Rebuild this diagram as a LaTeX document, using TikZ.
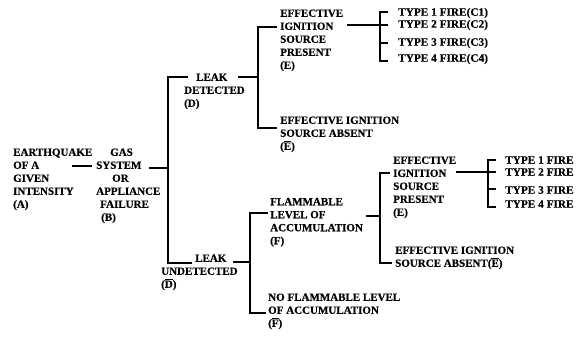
\documentclass[tikz,border=0pt]{standalone}
\usepackage{fontspec}
\setmainfont{Liberation Serif}[BoldFeatures={FakeBold=0.5}]
\newcommand{\ovl}[1]{$\overline{\mbox{#1}}$}
\begin{document}
\begin{tikzpicture}[x=1pt,y=-1pt,
  lbl/.style={anchor=north west,inner sep=0pt,align=left,font=\bfseries\fontsize{11}{13}\selectfont},
  one/.style={anchor=west,inner sep=0pt,font=\bfseries\fontsize{11.3}{13}\selectfont},
  wire/.style={line width=1.7pt,line join=miter}]
\useasboundingbox (0,0) rectangle (586,337);
% text blocks
\node[lbl] (A) at (13,148.3) {EARTHQUAKE\\OF A\\GIVEN\\INTENSITY\\(A)};
\node[lbl] (B) at (96,148.3) {\hspace*{14pt}GAS\\SYSTEM\\\hspace*{16pt}OR\\APPLIANCE\\\hspace*{4pt}FAILURE\\\hspace*{5pt}(B)};
\node[lbl] (D) at (184,73.3) {\hspace*{12pt}LEAK\\DETECTED\\(D)};
\node[lbl] (E1) at (280,9.3) {EFFECTIVE\\IGNITION\\SOURCE\\PRESENT\\(E)};
\node[lbl] (NE1) at (280,116.3) {EFFECTIVE IGNITION\\SOURCE ABSENT\\(\ovl{E})};
\node[lbl] (ND) at (161,254.3) {\hspace*{34pt}LEAK\\UNDETECTED\\(\ovl{D})};
\node[lbl] (F) at (270,197.8) {FLAMMABLE\\LEVEL OF\\ACCUMULATION\\(F)};
\node[lbl] (E2) at (393,156.3) {EFFECTIVE\\IGNITION\\SOURCE\\PRESENT\\(E)};
\node[lbl] (NE2) at (395,246.3) {EFFECTIVE IGNITION\\SOURCE ABSENT(\ovl{E})};
\node[lbl] (NF) at (268,293.3) {NO FLAMMABLE LEVEL\\OF ACCUMULATION\\(\ovl{F})};
\node[one] (C1) at (398,13) {TYPE 1 FIRE(C1)};
\node[one] (C2) at (398,25) {TYPE 2 FIRE(C2)};
\node[one] (C3) at (398,43) {TYPE 3 FIRE(C3)};
\node[one] (C4) at (398,59) {TYPE 4 FIRE(C4)};
\node[one] (T1) at (505,160) {TYPE 1 FIRE};
\node[one] (T2) at (505,172) {TYPE 2 FIRE};
\node[one] (T3) at (505,190) {TYPE 3 FIRE};
\node[one] (T4) at (505,204) {TYPE 4 FIRE};
% junction coordinates
\coordinate (ab1) at (72,166); \coordinate (ab2) at (92,166);
\coordinate (bs) at (149,168); \coordinate (bt) at (168,168);
\coordinate (t1) at (168,77); \coordinate (t2) at (168,263);
\coordinate (d1) at (188,77); \coordinate (d2) at (238,77);
\coordinate (e0) at (258,77);
\coordinate (e1) at (258,27); \coordinate (e2) at (258,128);
\coordinate (e1r) at (277,27); \coordinate (e2r) at (277,128);
\coordinate (i1) at (347,25); \coordinate (k1) at (380,25);
\coordinate (ktop) at (380,12); \coordinate (kbot) at (380,61); \coordinate (k3) at (380,43);
\coordinate (nd1) at (192,263); \coordinate (nd2) at (233,262); \coordinate (f0) at (250,262);
\coordinate (f1) at (250,213); \coordinate (f2) at (250,313);
\coordinate (f1r) at (268,213); \coordinate (f2r) at (266,313);
\coordinate (fl) at (366,216); \coordinate (g0) at (380,216);
\coordinate (g1) at (380,173); \coordinate (g2) at (380,263);
\coordinate (g1r) at (390,173); \coordinate (g2r) at (392,263);
\coordinate (i2) at (456,172); \coordinate (m1) at (488,172);
\coordinate (mtop) at (488,160); \coordinate (mbot) at (488,207); \coordinate (m3) at (488,189);
% connectors
\draw[wire] (ab1) -- (ab2);
\draw[wire] (bs) -- (bt);
\draw[wire] (d1) -- (t1) -- (t2) -- (nd1);
\draw[wire] (d2) -- (e0);
\draw[wire] (e1r) -- (e1) -- (e2) -- (e2r);
\draw[wire] (i1) -- ([xshift=8pt]k1);
\draw[wire] ([xshift=8pt]ktop) -- (ktop) -- (kbot) -- ([xshift=8pt]kbot);
\draw[wire] (k3) -- ([xshift=8pt]k3);
\draw[wire] (nd2) -- (f0);
\draw[wire] (f1r) -- (f1) -- (f2) -- (f2r);
\draw[wire] (fl) -- (g0);
\draw[wire] (g1r) -- (g1) -- (g2) -- (g2r);
\draw[wire] (i2) -- ([xshift=8pt]m1);
\draw[wire] ([xshift=8pt]mtop) -- (mtop) -- (mbot) -- ([xshift=8pt]mbot);
\draw[wire] (m3) -- ([xshift=8pt]m3);
\end{tikzpicture}
\end{document}
